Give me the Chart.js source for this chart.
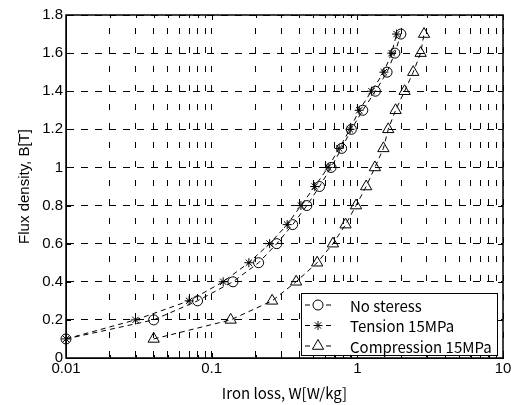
<!DOCTYPE html>
<html>
<head>
<meta charset="utf-8">
<script src="https://cdn.jsdelivr.net/npm/chart.js"></script>
<style>
  html, body { margin: 0; padding: 0; background: #fff; }
  #wrap { width: 518px; height: 405px; }
</style>
</head>
<body>
<div id="wrap"><canvas id="chart"></canvas></div>
<script>
// B values shared by all three curves
const fluxDensity = [0.1, 0.2, 0.3, 0.4, 0.5, 0.6, 0.7, 0.8, 0.9, 1.0, 1.1, 1.2, 1.3, 1.4, 1.5, 1.6, 1.7];

// iron loss W [W/kg]
const lossNoStress    = [0.01, 0.04, 0.08, 0.14, 0.21, 0.28, 0.36, 0.45, 0.55, 0.66, 0.78, 0.91, 1.09, 1.33, 1.60, 1.81, 1.99];
const lossTension     = [0.01, 0.03, 0.07, 0.12, 0.18, 0.25, 0.33, 0.41, 0.51, 0.63, 0.75, 0.89, 1.03, 1.25, 1.52, 1.72, 1.86];
const lossCompression = [0.04, 0.135, 0.26, 0.38, 0.53, 0.68, 0.83, 0.98, 1.15, 1.32, 1.51, 1.63, 1.83, 2.11, 2.42, 2.72, 2.87];

const seriesLabels = ["No steress", "Tension 15MPa", "Compression 15MPa"];
const seriesMarkers = ["circle", "star", "triangle"];
const xTickLabels = ["0.01", "0.1", "1", "10"];
const yTickLabels = ["0", "0.2", "0.4", "0.6", "0.8", "1", "1.2", "1.4", "1.6", "1.8"];

const sansFont = "'Liberation Sans', Arial, Helvetica";
const gothicFont = "'Noto Sans CJK JP', 'Noto Sans', sans-serif";

const toPoints = (xs) => xs.map((v, i) => ({ x: v, y: fluxDensity[i] }));

const isDecade = (v) => Math.abs(Math.log10(v) - Math.round(Math.log10(v))) < 1e-9;

function makeDataset(label, values, marker, radius) {
  return {
    label,
    data: toPoints(values),
    showLine: true,
    borderColor: "#000",
    borderWidth: 1,
    borderDash: [5, 4],
    pointStyle: marker,
    pointRadius: radius,
    pointBorderColor: "#000",
    pointBorderWidth: 1,
    pointBackgroundColor: "rgba(0,0,0,0)",
    clip: false,
  };
}

// small marker drawer for the legend
function drawMarker(ctx, style, x, y, r) {
  ctx.beginPath();
  if (style === "circle") {
    ctx.arc(x, y, r, 0, Math.PI * 2);
  } else if (style === "triangle") {
    let a = 0;
    ctx.moveTo(x + Math.sin(a) * r, y - Math.cos(a) * r);
    a += (2 * Math.PI) / 3;
    ctx.lineTo(x + Math.sin(a) * r, y - Math.cos(a) * r);
    a += (2 * Math.PI) / 3;
    ctx.lineTo(x + Math.sin(a) * r, y - Math.cos(a) * r);
    ctx.closePath();
  } else {
    for (let k = 0; k < 4; k++) {
      const a = (k * Math.PI) / 4;
      ctx.moveTo(x + Math.cos(a) * r, y + Math.sin(a) * r);
      ctx.lineTo(x - Math.cos(a) * r, y - Math.sin(a) * r);
    }
  }
  ctx.stroke();
}

const framePlugin = {
  id: "frame",
  afterDraw(chart) {
    const { ctx, chartArea: a, scales } = chart;
    const x = scales.x, y = scales.y;
    ctx.save();
    ctx.setLineDash([]);
    ctx.strokeStyle = "#000";
    ctx.lineWidth = 1;

    // inward tick marks, MATLAB style
    ctx.beginPath();
    x.ticks.forEach((t) => {
      const px = Math.round(x.getPixelForValue(t.value)) + 0.5;
      const len = isDecade(t.value) ? 5 : 3;
      ctx.moveTo(px, a.bottom); ctx.lineTo(px, a.bottom - len);
      ctx.moveTo(px, a.top); ctx.lineTo(px, a.top + len);
    });
    y.ticks.forEach((t) => {
      const py = Math.round(y.getPixelForValue(t.value)) + 0.5;
      ctx.moveTo(a.left, py); ctx.lineTo(a.left + 5, py);
      ctx.moveTo(a.right, py); ctx.lineTo(a.right - 5, py);
    });
    ctx.stroke();

    ctx.lineWidth = 1.5;
    ctx.strokeRect(a.left, a.top, a.right - a.left, a.bottom - a.top);

    // legend box in the lower right corner
    const bw = 196, bh = 62;
    const bx = a.right - 6 - bw, by = a.bottom - 3 - bh;
    ctx.fillStyle = "#fff";
    ctx.fillRect(bx, by, bw, bh);
    ctx.lineWidth = 1;
    ctx.strokeRect(bx + 0.5, by + 0.5, bw, bh);

    ctx.font = "15px " + gothicFont;
    ctx.textBaseline = "middle";
    ctx.fillStyle = "#000";
    chart.data.datasets.forEach((ds, i) => {
      const cy = by + 12 + i * 20.5;
      const mx = bx + 17;
      ctx.lineWidth = 1;
      ctx.beginPath();
      ctx.moveTo(bx + 4, cy); ctx.lineTo(bx + 9, cy);
      ctx.moveTo(bx + 25, cy); ctx.lineTo(bx + 30, cy);
      ctx.stroke();
      drawMarker(ctx, ds.pointStyle, mx, cy, ds.pointRadius);
      ctx.fillText(ds.label, bx + 49, cy + 1);
    });
    ctx.restore();
  },
};

Chart.defaults.color = "#000";
Chart.defaults.font.family = sansFont;

new Chart(document.getElementById("chart"), {
  type: "scatter",
  data: {
    datasets: [
      makeDataset(seriesLabels[0], lossNoStress, seriesMarkers[0], 5),
      makeDataset(seriesLabels[1], lossTension, seriesMarkers[1], 4.5),
      makeDataset(seriesLabels[2], lossCompression, seriesMarkers[2], 6.5),
    ],
  },
  options: {
    responsive: true,
    maintainAspectRatio: false,
    animation: false,
    devicePixelRatio: 1,
    layout: { padding: { left: 0, top: 15, right: 15, bottom: 0 } },
    plugins: { legend: { display: false }, tooltip: { enabled: false } },
    scales: {
      x: {
        type: "logarithmic",
        min: 0.01,
        max: 10,
        afterBuildTicks: (scale) => {
          const ticks = [];
          for (let d = 0.01; d < 5; d *= 10) {
            for (let m = 1; m <= 9; m++) ticks.push({ value: +(m * d).toPrecision(3) });
          }
          ticks.push({ value: 10 });
          scale.ticks = ticks;
        },
        afterFit: (scale) => { scale.height = 47; },
        ticks: {
          autoSkip: false,
          maxRotation: 0,
          padding: 2,
          font: { family: sansFont, size: 15 },
          callback: (v) => {
            const lab = xTickLabels.find((s) => Math.abs(parseFloat(s) - v) < 1e-9);
            return lab || "";
          },
        },
        grid: { color: "#000", lineWidth: 1, drawTicks: false },
        border: { display: true, color: "#000", width: 1, dash: [6, 13], dashOffset: 6 },
        title: {
          display: true,
          text: "Iron loss, W[W/kg]",
          font: { family: gothicFont, size: 15, lineHeight: 1 },
          padding: { top: 0, bottom: 4 },
        },
      },
      y: {
        type: "linear",
        min: 0,
        max: 1.8,
        afterBuildTicks: (scale) => {
          scale.ticks = yTickLabels.map((s) => ({ value: parseFloat(s) }));
        },
        afterFit: (scale) => { scale.width = 66; },
        ticks: {
          padding: 3,
          font: { family: sansFont, size: 15 },
          callback: (v, i) => yTickLabels[i],
        },
        grid: { color: "#000", lineWidth: 1, drawTicks: false },
        border: { display: true, color: "#000", width: 1, dash: [7, 7] },
        title: {
          display: true,
          text: "Flux density, B[T]",
          font: { family: sansFont, size: 15, lineHeight: 1.2 },
          padding: { top: 16, bottom: 0 },
        },
      },
    },
  },
  plugins: [framePlugin],
});
</script>
</body>
</html>
